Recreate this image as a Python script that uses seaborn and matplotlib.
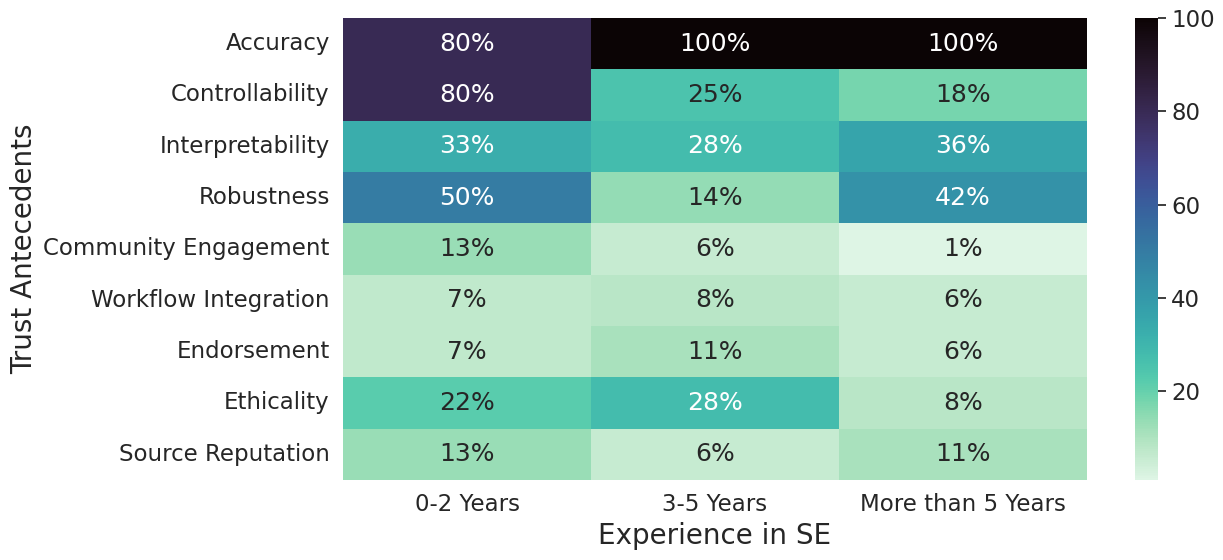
import numpy as np
import pandas as pd
import seaborn as sns
import matplotlib.pyplot as plt

# Trust antecedents (rows) vs experience groups (columns), values in percent
antecedents = ['Accuracy', 'Controllability', 'Interpretability', 'Robustness',
               'Community Engagement', 'Workflow Integration', 'Endorsement',
               'Ethicality', 'Source Reputation']
experience = ['0-2 Years', '3-5 Years', 'More than 5 Years']

years_0_2 = [80, 80, 33, 50, 13, 7, 7, 22, 13]
years_3_5 = [100, 25, 28, 14, 6, 8, 11, 28, 6]
years_5_plus = [100, 18, 36, 42, 1, 6, 6, 8, 11]

df = pd.DataFrame({experience[0]: years_0_2,
                   experience[1]: years_3_5,
                   experience[2]: years_5_plus}, index=antecedents)

labels = df.map(lambda v: f"{v}%")

sns.set_theme(style="white", font_scale=1.5)

fig = plt.figure(figsize=(12.23, 5.6))
ax = fig.add_axes([0.2805, 0.1429, 0.6083, 0.825])
cax = fig.add_axes([0.928, 0.1429, 0.0188, 0.825])
sns.heatmap(df, annot=labels, fmt="", cmap="mako_r", ax=ax, cbar_ax=cax)
ax.set_xlabel("Experience in SE", fontsize=20)
ax.set_ylabel("Trust Antecedents", fontsize=20)
ax.tick_params(axis='y', rotation=0)
fig.savefig("out.png", dpi=100)
